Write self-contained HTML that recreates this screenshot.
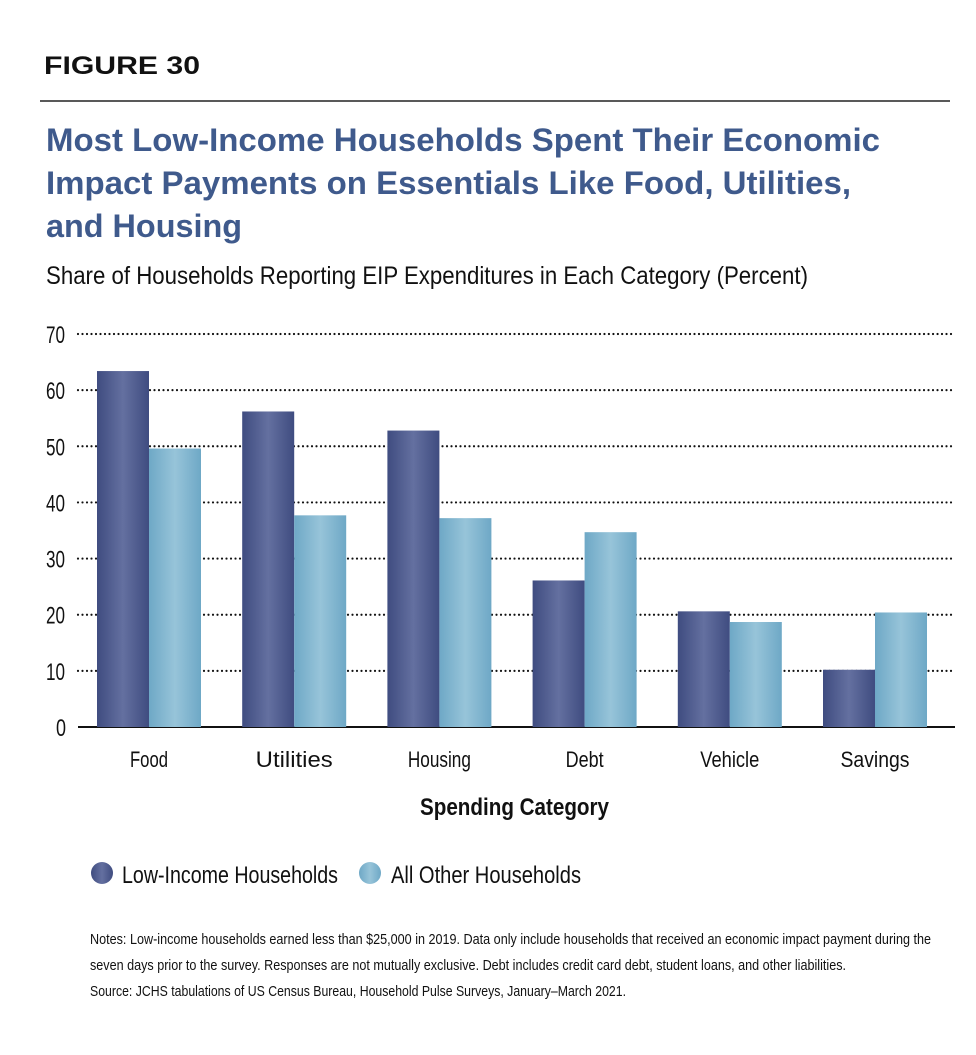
<!DOCTYPE html>
<html><head><meta charset="utf-8"><style>
body{margin:0;background:#fff;}
svg text{font-family:"Liberation Sans",sans-serif;}
</style></head><body>
<svg width="976" height="1050" xmlns="http://www.w3.org/2000/svg">
<defs>
<linearGradient id="gd" x1="0" x2="1"><stop offset="0" stop-color="#3f4c80"/><stop offset="0.5" stop-color="#6470a0"/><stop offset="1" stop-color="#3f4c80"/></linearGradient>
<linearGradient id="gl" x1="0" x2="1"><stop offset="0" stop-color="#6ea8c6"/><stop offset="0.5" stop-color="#97c4d9"/><stop offset="1" stop-color="#6ea8c6"/></linearGradient>
</defs>
<text x="44" y="74" font-weight="bold" font-size="25" fill="#111" textLength="156" lengthAdjust="spacingAndGlyphs">FIGURE 30</text>
<line x1="40" y1="101" x2="950" y2="101" stroke="#222" stroke-width="1.5"/>
<g font-weight="bold" font-size="32" fill="#3f5a8c">
<text x="46" y="151" textLength="834" lengthAdjust="spacingAndGlyphs">Most Low-Income Households Spent Their Economic</text>
<text x="46" y="194" textLength="805" lengthAdjust="spacingAndGlyphs">Impact Payments on Essentials Like Food, Utilities,</text>
<text x="46" y="237" textLength="196" lengthAdjust="spacingAndGlyphs">and Housing</text>
</g>
<text x="46" y="284" font-size="25" fill="#111" textLength="762" lengthAdjust="spacingAndGlyphs">Share of Households Reporting EIP Expenditures in Each Category (Percent)</text>
<g id="grid"></g>
<g id="bars"></g>
<g id="xlabels"></g>
<text x="420" y="815" font-size="24" font-weight="bold" fill="#111" textLength="189" lengthAdjust="spacingAndGlyphs">Spending Category</text>
<circle cx="102" cy="873" r="11" fill="url(#gd)"/>
<text x="122" y="883" font-size="24" fill="#111" textLength="216" lengthAdjust="spacingAndGlyphs">Low-Income Households</text>
<circle cx="370" cy="873" r="11" fill="url(#gl)"/>
<text x="391" y="883" font-size="24" fill="#111" textLength="190" lengthAdjust="spacingAndGlyphs">All Other Households</text>
<g font-size="15" fill="#111">
<text x="90" y="944" textLength="841" lengthAdjust="spacingAndGlyphs">Notes: Low-income households earned less than $25,000 in 2019. Data only include households that received an economic impact payment during the</text>
<text x="90" y="970" textLength="756" lengthAdjust="spacingAndGlyphs">seven days prior to the survey. Responses are not mutually exclusive. Debt includes credit card debt, student loans, and other liabilities.</text>
<text x="90" y="996" textLength="536" lengthAdjust="spacingAndGlyphs">Source: JCHS tabulations of US Census Bureau, Household Pulse Surveys, January–March 2021.</text>
</g>
</svg>
<script>
const categories=["Food","Utilities","Housing","Debt","Vehicle","Savings"];
const lowIncome=[63.4,56.2,52.8,26.1,20.6,10.2];
const allOther=[49.6,37.7,37.2,34.7,18.7,20.4];
const yTicks=[0,10,20,30,40,50,60,70];
const labelW=[38,77,63,38,59,69];
const NS="http://www.w3.org/2000/svg";
const y0=727,yTop=334,yMax=70;
function y(v){return y0-(y0-yTop)*v/yMax;}
function x(i){return 97+i*145.2;}
const grid=document.getElementById('grid');
yTicks.forEach(t=>{
 const l=document.createElementNS(NS,'line');
 l.setAttribute('x1',78);l.setAttribute('x2',955);l.setAttribute('y1',y(t));l.setAttribute('y2',y(t));
 l.setAttribute('stroke','#111');l.setAttribute('stroke-width',t===0?2:2.2);
 if(t!==0){l.setAttribute('stroke-dasharray','0 4.5');l.setAttribute('stroke-linecap','round');}
 
 
 grid.appendChild(l);
 const tx=document.createElementNS(NS,'text');
 tx.setAttribute('x',t===0?56:46);tx.setAttribute('y',y(t)+9);tx.setAttribute('font-size',24);tx.setAttribute('fill','#111');
 tx.setAttribute('textLength',t===0?10:19);tx.setAttribute('lengthAdjust','spacingAndGlyphs');
 tx.textContent=t;
 
 
 grid.appendChild(tx);
});
const bars=document.getElementById('bars'),xl=document.getElementById('xlabels');
categories.forEach((c,i)=>{
 [[lowIncome,'url(#gd)',0,'low'],[allOther,'url(#gl)',52,'other']].forEach(([arr,f,off,k])=>{
  const r=document.createElementNS(NS,'rect');
  r.setAttribute('x',x(i)+off);r.setAttribute('width',52);
  r.setAttribute('y',y(arr[i]));r.setAttribute('height',y0-y(arr[i]));r.setAttribute('fill',f);
  
  
  bars.appendChild(r);
 });
 const t=document.createElementNS(NS,'text');
 t.setAttribute('x',x(i)+52-labelW[i]/2);t.setAttribute('y',767);
 t.setAttribute('font-size',22);t.setAttribute('fill','#111');t.textContent=c;
 t.setAttribute('textLength',labelW[i]);t.setAttribute('lengthAdjust','spacingAndGlyphs');
 
 
 xl.appendChild(t);
});
</script>
</body></html>
